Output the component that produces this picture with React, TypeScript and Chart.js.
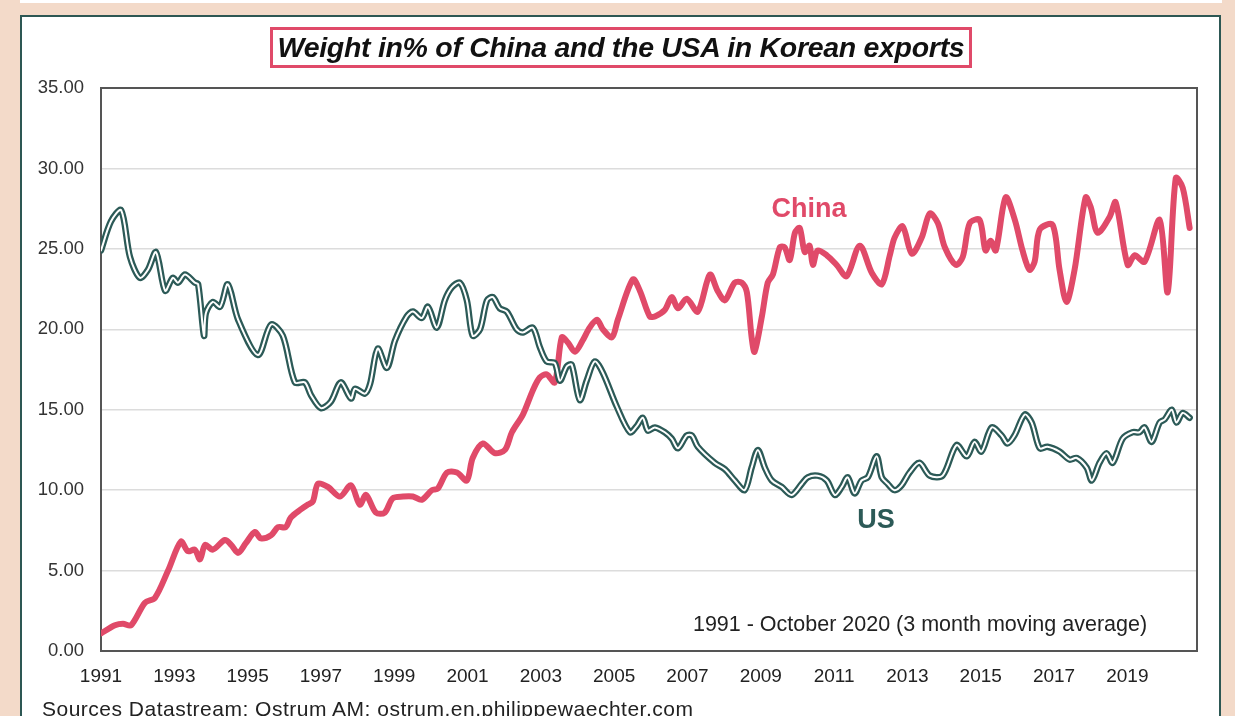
import React, { useEffect, useRef } from "react";
import { Chart, registerables } from "chart.js";

Chart.register(...registerables);

const yearLabels = [1991, 1993, 1995, 1997, 1999, 2001, 2003, 2005, 2007, 2009, 2011, 2013, 2015, 2017, 2019];

const usYears = [
  1991.0, 1991.27, 1991.55, 1991.79, 1992.06, 1992.28, 1992.5, 1992.75, 1992.96, 1993.1,
  1993.29, 1993.56, 1993.65, 1993.81, 1993.86, 1994.05, 1994.25, 1994.46, 1994.74, 1995.28,
  1995.64, 1995.96, 1996.29, 1996.56, 1996.73, 1997.0, 1997.27, 1997.54, 1997.82, 1997.93,
  1998.2, 1998.34, 1998.55, 1998.8, 1999.02, 1999.34, 1999.51, 1999.75, 1999.92, 2000.16,
  2000.38, 2000.57, 2000.79, 2000.98, 2001.14, 2001.34, 2001.53, 2001.69, 2001.88, 2002.07,
  2002.34, 2002.51, 2002.78, 2002.97, 2003.16, 2003.38, 2003.52, 2003.71, 2003.84, 2004.06,
  2004.25, 2004.47, 2004.69, 2005.07, 2005.43, 2005.62, 2005.78, 2005.92, 2006.11, 2006.38,
  2006.57, 2006.74, 2006.98, 2007.12, 2007.28, 2007.74, 2008.02, 2008.29, 2008.56, 2008.75,
  2008.92, 2009.11, 2009.3, 2009.57, 2009.84, 2010.12, 2010.28, 2010.55, 2010.8, 2011.02,
  2011.21, 2011.37, 2011.56, 2011.75, 2011.92, 2012.16, 2012.3, 2012.46, 2012.65, 2012.84,
  2013.06, 2013.33, 2013.61, 2013.96, 2014.34, 2014.62, 2014.83, 2015.02, 2015.3, 2015.57,
  2015.73, 2015.92, 2016.2, 2016.39, 2016.61, 2016.82, 2017.15, 2017.42, 2017.62, 2017.89,
  2018.03, 2018.24, 2018.43, 2018.6, 2018.87, 2019.14, 2019.33, 2019.47, 2019.66, 2019.88,
  2020.02, 2020.21, 2020.34, 2020.51, 2020.7,
];
const usValues = [
  24.9, 26.7, 27.4, 24.5, 23.2, 23.7, 24.8, 22.4, 23.2, 22.9,
  23.4, 22.9, 22.8, 19.6, 21.0, 21.7, 21.4, 22.8, 20.6, 18.4,
  20.3, 19.6, 16.7, 16.7, 15.9, 15.1, 15.5, 16.7, 15.7, 16.3,
  16.0, 16.6, 18.8, 17.6, 19.3, 20.8, 21.1, 20.7, 21.4, 20.1,
  21.8, 22.6, 22.9, 21.8, 19.6, 20.0, 21.8, 22.0, 21.3, 21.1,
  20.0, 19.8, 20.1, 18.9, 18.0, 17.9, 16.8, 17.7, 17.8, 15.6,
  16.8, 18.0, 17.3, 15.2, 13.6, 14.0, 14.5, 13.7, 13.9, 13.6,
  13.2, 12.6, 13.4, 13.4, 12.7, 11.7, 11.3, 10.6, 10.0, 11.4,
  12.5, 11.4, 10.6, 10.2, 9.7, 10.4, 10.8, 10.9, 10.6, 9.7,
  10.2, 10.8, 9.8, 10.6, 10.8, 12.1, 10.8, 10.4, 10.0, 10.3,
  11.1, 11.7, 10.9, 10.9, 12.8, 12.1, 13.0, 12.4, 13.9, 13.4,
  12.9, 13.4, 14.7, 14.2, 12.6, 12.7, 12.4, 11.9, 12.0, 11.4,
  10.6, 11.7, 12.3, 11.7, 13.2, 13.6, 13.6, 13.9, 13.0, 14.2,
  14.4, 15.0, 14.2, 14.8, 14.5,
];

const chinaYears = [
  1991.0, 1991.38, 1991.6, 1991.82, 1992.2, 1992.47, 1992.83, 1993.18, 1993.37, 1993.56,
  1993.7, 1993.84, 1994.05, 1994.38, 1994.55, 1994.74, 1994.95, 1995.2, 1995.36, 1995.64,
  1995.83, 1996.04, 1996.18, 1996.45, 1996.64, 1996.78, 1996.92, 1997.19, 1997.52, 1997.82,
  1998.06, 1998.23, 1998.5, 1998.74, 1998.96, 1999.24, 1999.51, 1999.75, 2000.03, 2000.19,
  2000.44, 2000.71, 2000.98, 2001.14, 2001.42, 2001.74, 2002.02, 2002.21, 2002.51, 2002.78,
  2002.97, 2003.16, 2003.38, 2003.57, 2003.73, 2003.93, 2004.14, 2004.33, 2004.53, 2004.69,
  2004.94, 2005.1, 2005.51, 2005.7, 2005.97, 2006.11, 2006.38, 2006.57, 2006.74, 2006.98,
  2007.28, 2007.61, 2007.82, 2008.02, 2008.29, 2008.48, 2008.62, 2008.75, 2008.83, 2009.03,
  2009.19, 2009.33, 2009.52, 2009.65, 2009.79, 2009.93, 2010.06, 2010.2, 2010.33, 2010.42,
  2010.55, 2010.8, 2011.07, 2011.34, 2011.7, 2012.03, 2012.3, 2012.52, 2012.65, 2012.87,
  2013.12, 2013.39, 2013.61, 2013.83, 2014.02, 2014.32, 2014.51, 2014.7, 2014.97, 2015.13,
  2015.27, 2015.41, 2015.68, 2015.93, 2016.14, 2016.33, 2016.47, 2016.61, 2016.96, 2017.15,
  2017.34, 2017.56, 2017.86, 2018.0, 2018.19, 2018.52, 2018.68, 2019.01, 2019.2, 2019.47,
  2019.88, 2020.1, 2020.32, 2020.51, 2020.7,
];
const chinaValues = [
  1.1, 1.6, 1.7, 1.6, 3.0, 3.3, 5.0, 6.8, 6.2, 6.3,
  5.7, 6.6, 6.3, 6.9, 6.6, 6.1, 6.7, 7.4, 7.0, 7.2,
  7.7, 7.7, 8.3, 8.8, 9.1, 9.3, 10.4, 10.2, 9.6, 10.3,
  9.1, 9.7, 8.6, 8.6, 9.5, 9.6, 9.6, 9.4, 10.0, 10.1,
  11.1, 11.1, 10.6, 12.0, 12.9, 12.3, 12.5, 13.6, 14.7, 16.2,
  17.0, 17.2, 16.7, 19.5, 19.2, 18.6, 19.3, 20.1, 20.6, 20.0,
  19.5, 20.6, 23.1, 22.4, 20.8, 20.8, 21.2, 22.0, 21.3, 21.9,
  21.1, 23.4, 22.4, 21.8, 22.9, 22.9, 22.3, 19.5, 18.6, 20.8,
  22.9, 23.4, 25.1, 25.1, 24.3, 26.0, 26.3, 24.8, 25.2, 24.0,
  24.9, 24.6, 24.0, 23.3, 25.2, 23.5, 22.8, 24.6, 25.7, 26.4,
  24.7, 25.7, 27.2, 26.6, 25.1, 24.0, 24.5, 26.6, 26.8, 24.9,
  25.5, 24.9, 28.2, 26.8, 24.9, 23.7, 24.2, 26.2, 26.5, 23.7,
  21.7, 23.7, 28.2, 27.6, 26.0, 27.0, 27.9, 24.0, 24.6, 24.2,
  26.8, 22.3, 29.4, 28.8, 26.3,
];

const FONT = '"Liberation Sans", Arial, Helvetica, sans-serif';
const CHINA_COLOR = "#e04a69";
const US_COLOR = "#2c5a57";

const framePlugin = {
  id: "plotFrame",
  beforeDatasetsDraw(chart: any) {
    const { ctx, chartArea: a } = chart;
    ctx.save();
    ctx.strokeStyle = "#555555";
    ctx.lineWidth = 2;
    ctx.strokeRect(a.left, a.top, a.right - a.left, a.bottom - a.top);
    ctx.restore();
  },
};

export default function App() {
  const canvasRef = useRef<HTMLCanvasElement | null>(null);

  useEffect(() => {
    document.body.style.margin = "0";
    const canvas = canvasRef.current;
    if (!canvas) return;
    const china = chinaYears.map((x, i) => ({ x, y: chinaValues[i] }));
    const us = usYears.map((x, i) => ({ x, y: usValues[i] }));
    const chart = new Chart(canvas, {
      type: "line",
      data: {
        datasets: [
          {
            label: "China",
            data: china,
            borderColor: CHINA_COLOR,
            borderWidth: 6,
            tension: 0.3,
            pointRadius: 0,
            borderJoinStyle: "round",
            borderCapStyle: "round",
            order: 3,
          },
          {
            label: "US",
            data: us,
            borderColor: US_COLOR,
            borderWidth: 6.5,
            tension: 0.3,
            pointRadius: 0,
            borderJoinStyle: "round",
            borderCapStyle: "round",
            order: 2,
          },
          {
            label: "US inner",
            data: us,
            borderColor: "#ffffff",
            borderWidth: 2,
            tension: 0.3,
            pointRadius: 0,
            borderJoinStyle: "round",
            borderCapStyle: "round",
            order: 1,
          },
        ],
      },
      options: {
        animation: false,
        responsive: false,
        layout: { padding: { left: 0, top: 88, right: 38, bottom: 0 } },
        plugins: { legend: { display: false }, tooltip: { enabled: false } },
        scales: {
          x: {
            type: "linear",
            min: 1991,
            max: 2020.9,
            grid: { display: false, drawTicks: false },
            border: { display: false },
            afterBuildTicks: (s: any) => {
              s.ticks = yearLabels.map((v) => ({ value: v }));
            },
            afterFit: (s: any) => {
              s.height = 65;
            },
            ticks: {
              autoSkip: false,
              maxRotation: 0,
              padding: 14,
              color: "#222222",
              font: { family: FONT, size: 19 },
              callback: (v: any) => String(v),
            },
          },
          y: {
            min: 0,
            max: 35,
            afterFit: (s: any) => {
              s.width = 101;
            },
            grid: { color: "#dcdcdc", lineWidth: 1.5, drawTicks: false },
            border: { display: false },
            ticks: {
              stepSize: 5,
              padding: 17,
              color: "#333333",
              font: { family: FONT, size: 18.5 },
              callback: (v: any) => Number(v).toFixed(2),
            },
          },
        },
      },
      plugins: [framePlugin],
    });
    return () => chart.destroy();
  }, []);

  return (
    <div
      style={{
        position: "relative",
        width: 1235,
        height: 716,
        overflow: "hidden",
        background: "#f3dac9",
        fontFamily: FONT,
      }}
    >
      <div style={{ position: "absolute", left: 20, top: 0, width: 1202, height: 3, background: "#ffffff" }} />
      <div
        style={{
          position: "absolute",
          left: 20,
          top: 15,
          width: 1201,
          height: 760,
          background: "#ffffff",
          border: "2.5px solid #2d5753",
          boxSizing: "border-box",
        }}
      />
      <canvas
        ref={canvasRef}
        width={1235}
        height={716}
        style={{ position: "absolute", left: 0, top: 0, width: 1235, height: 716 }}
      />
      <div
        style={{
          position: "absolute",
          left: 270,
          top: 27,
          width: 702,
          height: 41,
          border: "3px solid " + CHINA_COLOR,
          boxSizing: "border-box",
          display: "flex",
          alignItems: "center",
          justifyContent: "center",
          fontWeight: "bold",
          fontStyle: "italic",
          fontSize: 28.5,
          color: "#111111",
          letterSpacing: -0.3,
          whiteSpace: "nowrap",
        }}
      >
        Weight in% of China and the USA in Korean exports
      </div>
      <div
        style={{
          position: "absolute",
          left: 809,
          top: 208,
          transform: "translate(-50%, -50%)",
          fontWeight: "bold",
          fontSize: 27,
          color: CHINA_COLOR,
          whiteSpace: "nowrap",
        }}
      >
        China
      </div>
      <div
        style={{
          position: "absolute",
          left: 876,
          top: 519,
          transform: "translate(-50%, -50%)",
          fontWeight: "bold",
          fontSize: 27,
          color: US_COLOR,
          whiteSpace: "nowrap",
        }}
      >
        US
      </div>
      <div
        style={{
          position: "absolute",
          left: 920,
          top: 624,
          transform: "translate(-50%, -50%)",
          fontSize: 21.5,
          color: "#222222",
          whiteSpace: "nowrap",
        }}
      >
        1991 - October 2020 (3 month moving average)
      </div>
      <div
        style={{
          position: "absolute",
          left: 42,
          top: 697,
          fontSize: 21,
          letterSpacing: 0.5,
          color: "#222222",
          whiteSpace: "nowrap",
        }}
      >
        Sources Datastream; Ostrum AM; ostrum.en.philippewaechter.com
      </div>
    </div>
  );
}
